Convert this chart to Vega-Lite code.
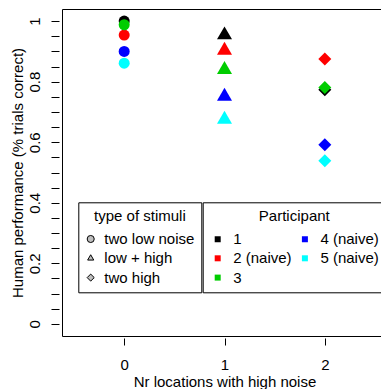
{
  "$schema": "https://vega.github.io/schema/vega-lite/v6.json",
  "width": 325,
  "height": 327,
  "autosize": {"type": "none"},
  "padding": {"left": 62, "top": 9, "right": 0, "bottom": 53},
  "background": "white",
  "config": {
    "font": "Liberation Sans",
    "view": {"stroke": "black", "strokeWidth": 1},
    "axis": {
      "grid": false,
      "domain": false,
      "labelFont": "Liberation Sans",
      "labelFontSize": 15,
      "labelColor": "black",
      "titleFont": "Liberation Sans",
      "titleFontSize": 15,
      "titleFontWeight": "normal",
      "titleColor": "black",
      "tickColor": "black",
      "tickWidth": 1,
      "labelOverlap": false,
      "labelFlush": false
    },
    "legend": {
      "orient": "none",
      "titleFont": "Liberation Sans",
      "titleFontSize": 15,
      "titleFontWeight": "normal",
      "titleColor": "black",
      "labelFont": "Liberation Sans",
      "labelFontSize": 15,
      "labelColor": "black",
      "strokeColor": "black",
      "fillColor": "white",
      "padding": 6.6,
      "titleAnchor": "middle",
      "titlePadding": 7.6,
      "rowPadding": 3.3
    }
  },
  "data": {
    "values": [
      {"locations": 0, "performance": 1.0, "participant": "1", "stimuli": "two low noise"},
      {"locations": 0, "performance": 0.954, "participant": "2 (naive)", "stimuli": "two low noise"},
      {"locations": 0, "performance": 0.988, "participant": "3", "stimuli": "two low noise"},
      {"locations": 0, "performance": 0.9, "participant": "4 (naive)", "stimuli": "two low noise"},
      {"locations": 0, "performance": 0.861, "participant": "5 (naive)", "stimuli": "two low noise"},
      {"locations": 1, "performance": 0.954, "participant": "1", "stimuli": "low + high"},
      {"locations": 1, "performance": 0.903, "participant": "2 (naive)", "stimuli": "low + high"},
      {"locations": 1, "performance": 0.84, "participant": "3", "stimuli": "low + high"},
      {"locations": 1, "performance": 0.751, "participant": "4 (naive)", "stimuli": "low + high"},
      {"locations": 1, "performance": 0.675, "participant": "5 (naive)", "stimuli": "low + high"},
      {"locations": 2, "performance": 0.773, "participant": "1", "stimuli": "two high"},
      {"locations": 2, "performance": 0.875, "participant": "2 (naive)", "stimuli": "two high"},
      {"locations": 2, "performance": 0.781, "participant": "3", "stimuli": "two high"},
      {"locations": 2, "performance": 0.592, "participant": "4 (naive)", "stimuli": "two high"},
      {"locations": 2, "performance": 0.539, "participant": "5 (naive)", "stimuli": "two high"}
    ]
  },
  "encoding": {
    "x": {
      "field": "locations",
      "type": "quantitative",
      "scale": {"domain": [-0.62, 2.62], "nice": false, "zero": false},
      "axis": {
        "values": [0, 1, 2],
        "format": "d",
        "title": "Nr locations with high noise",
        "labelAngle": 0,
        "tickSize": 7,
        "offset": 2,
        "labelPadding": 12,
        "titlePadding": 2
      }
    },
    "y": {
      "field": "performance",
      "type": "quantitative",
      "scale": {"domain": [-0.04, 1.04], "nice": false, "zero": false},
      "axis": {
        "values": [0, 0.05, 0.1, 0.15, 0.2, 0.25, 0.3, 0.35, 0.4, 0.45, 0.5, 0.55, 0.6, 0.65, 0.7, 0.75, 0.8, 0.85, 0.9, 0.95, 1],
        "labelExpr": "abs(datum.value*5 - round(datum.value*5)) < 0.001 ? format(datum.value, '~g') : ''",
        "title": "Human performance (% trials correct)",
        "labelAngle": -90,
        "labelAlign": "center",
        "labelBaseline": "bottom",
        "tickSize": 8,
        "offset": 3,
        "labelPadding": 9,
        "titlePadding": 2
      }
    },
    "color": {
      "field": "participant",
      "type": "nominal",
      "scale": {
        "domain": ["1", "2 (naive)", "3", "4 (naive)", "5 (naive)"],
        "range": ["#000000", "#ff0000", "#00cd00", "#0000ff", "#00ffff"]
      },
      "legend": {
        "title": "Participant",
        "legendX": 140.7,
        "legendY": 193.3,
        "columns": 2,
        "columnPadding": 4.2,
        "symbolType": "square",
        "symbolSize": 36,
        "symbolOffset": 0.9,
        "labelOffset": 8,
        "symbolStrokeWidth": 0
      }
    },
    "shape": {
      "field": "stimuli",
      "type": "nominal",
      "scale": {
        "domain": ["two low noise", "low + high", "two high"],
        "range": ["circle", "M0,-1L0.866,0.5L-0.866,0.5Z", "diamond"]
      },
      "legend": {
        "title": "type of stimuli",
        "legendX": 16.3,
        "legendY": 193.3,
        "symbolSize": 50,
        "symbolOffset": -1.7,
        "labelOffset": 6.1,
        "symbolFillColor": "#bebebe",
        "symbolStrokeColor": "black",
        "symbolStrokeWidth": 1,
        "encode": {
          "symbols": {
            "update": {
              "fill": {"value": "#bebebe"},
              "stroke": {"value": "black"},
              "strokeWidth": {"value": 1}
            }
          }
        }
      }
    }
  },
  "layer": [
    {
      "transform": [{"filter": "datum.stimuli === 'two low noise'"}],
      "mark": {"type": "point", "filled": true, "opacity": 1, "strokeWidth": 0, "size": 121}
    },
    {
      "transform": [{"filter": "datum.stimuli === 'low + high'"}],
      "mark": {"type": "point", "filled": true, "opacity": 1, "strokeWidth": 0, "size": 300}
    },
    {
      "transform": [{"filter": "datum.stimuli === 'two high'"}],
      "mark": {"type": "point", "filled": true, "opacity": 1, "strokeWidth": 0, "size": 169}
    }
  ]
}
